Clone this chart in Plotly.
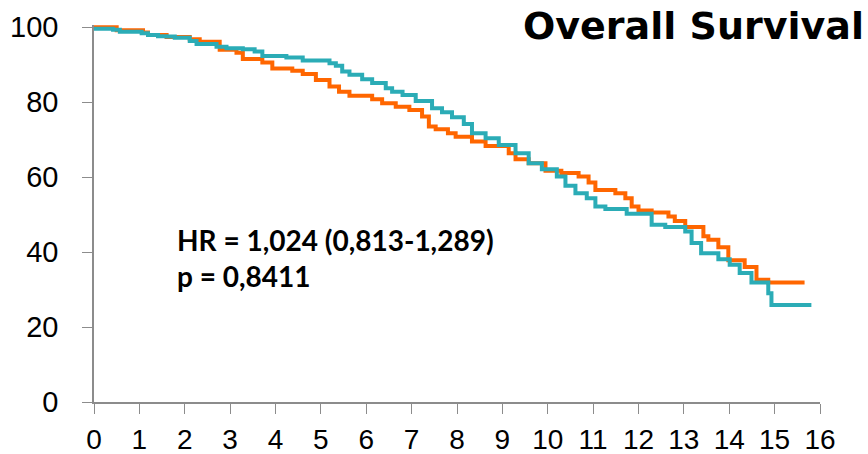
import plotly.graph_objects as go

# Kaplan-Meier step data (time in years, survival %)
teal_t = [0, 0.42, 0.57, 1.05, 1.19, 1.41, 1.6, 1.78, 2.11, 2.26, 2.7, 2.92, 3.28, 3.54, 3.71,
          4.24, 4.6, 5.19, 5.33, 5.47, 5.63, 5.91, 6.13, 6.43, 6.57, 6.8, 7.09, 7.45, 7.67,
          7.89, 8.15, 8.33, 8.63, 8.92, 9.29, 9.58, 9.87, 10.2, 10.39, 10.61, 10.86, 11.05,
          11.27, 11.74, 12.29, 12.59, 13.03, 13.17, 13.38, 13.76, 14.01, 14.23, 14.49, 14.86,
          14.93, 15.81]
teal_s = [99.6, 99.3, 98.8, 98.4, 97.9, 97.6, 97.5, 97.2, 96.3, 95.5, 94.8, 94.4, 94.1, 93.5, 92.3,
          91.9, 91.1, 90.4, 89.7, 88.2, 87.3, 86.1, 85.1, 83.7, 82.8, 81.9, 80.3, 78.4, 77.3,
          76.0, 74.2, 71.7, 70.4, 68.6, 66.4, 63.7, 62.1, 60.2, 57.7, 55.7, 54.4, 52.2,
          51.5, 50.2, 47.3, 46.7, 45.5, 42.4, 39.7, 38.1, 36.6, 34.4, 31.9, 29.0,
          25.9, 25.9]

orange_t = [0, 0.5, 1.08, 1.19, 1.6, 2.11, 2.33, 2.77, 3.14, 3.28, 3.71, 3.93, 4.37, 4.6, 4.89,
            5.19, 5.4, 5.63, 6.13, 6.35, 6.65, 6.95, 7.23, 7.38, 7.53, 7.8, 7.97, 8.33, 8.63,
            9.14, 9.29, 9.58, 9.95, 10.3, 10.68, 10.9, 11.05, 11.49, 11.71, 11.85, 12.0, 12.29,
            12.66, 12.8, 13.03, 13.43, 13.54, 13.76, 13.98, 14.34, 14.6, 14.86, 15.66]
orange_s = [100, 99.2, 98.6, 97.9, 97.4, 96.8, 96.1, 94.0, 93.2, 91.5, 90.6, 89.0, 88.4, 87.5, 85.9,
            84.2, 82.8, 81.7, 80.8, 79.7, 78.8, 77.9, 76.2, 73.5, 72.8, 71.7, 70.8, 69.5, 68.3,
            66.4, 64.8, 63.7, 61.7, 61.1, 60.2, 58.6, 56.6, 55.7, 54.4, 52.2, 51.1, 50.6,
            49.5, 48.3, 46.7, 44.2, 43.3, 41.3, 37.8, 36.0, 32.6, 31.9, 31.9]

x_ticks = list(range(0, 17))
y_ticks = [0, 20, 40, 60, 80, 100]
title_text = "Overall Survival"
hr_text = "HR = 1,024 (0,813-1,289)<br>p = 0,8411"

ORANGE = "#FF6600"
TEAL = "#2BACB6"
AXIS = "#8C8C8C"

fig = go.Figure()
fig.add_trace(go.Scatter(x=orange_t, y=orange_s, mode="lines", line=dict(color=ORANGE, width=4, shape="hv"),
                         showlegend=False, hoverinfo="skip"))
fig.add_trace(go.Scatter(x=teal_t, y=teal_s, mode="lines", line=dict(color=TEAL, width=4, shape="hv"),
                         showlegend=False, hoverinfo="skip"))

fig.update_layout(
    width=868, height=454,
    margin=dict(l=94, r=48, t=25, b=52),
    paper_bgcolor="white", plot_bgcolor="white",
    font=dict(family="Liberation Sans, Arial, sans-serif", size=28, color="black"),
    xaxis=dict(range=[0, 16], tickvals=x_ticks, ticktext=[str(v) for v in x_ticks],
               showgrid=False, zeroline=False, showline=True, linecolor=AXIS, linewidth=1.5,
               ticks="outside", ticklen=10, tickcolor=AXIS, tickwidth=1.2,
               ticklabelstandoff=2, automargin=False, fixedrange=True,
               tickfont=dict(size=28)),
    yaxis=dict(range=[0, 100.6], tickvals=y_ticks, ticktext=[str(v) for v in y_ticks],
               showgrid=False, zeroline=False, showline=True, linecolor=AXIS, linewidth=1.5,
               ticks="outside", ticklen=10, tickcolor=AXIS, tickwidth=1.2,
               ticklabelstandoff=18, automargin=False, fixedrange=True,
               tickfont=dict(size=29)),
    annotations=[
        dict(text="<b>" + title_text + "</b>", xref="paper", yref="paper", x=1.064, y=1.062,
             xanchor="right", yanchor="top", showarrow=False,
             font=dict(family="DejaVu Sans, sans-serif", size=38, color="black")),
        dict(text="<b>" + hr_text + "</b>", x=1.78, y=38.5, xref="x", yref="y",
             xanchor="left", yanchor="middle", align="left", showarrow=False,
             font=dict(family="Lato, Open Sans, sans-serif", size=28, color="black")),
    ],
)

fig.write_html("out.html", config={"displayModeBar": False},
               post_script="document.body.style.margin='0';document.body.style.overflow='hidden';")
